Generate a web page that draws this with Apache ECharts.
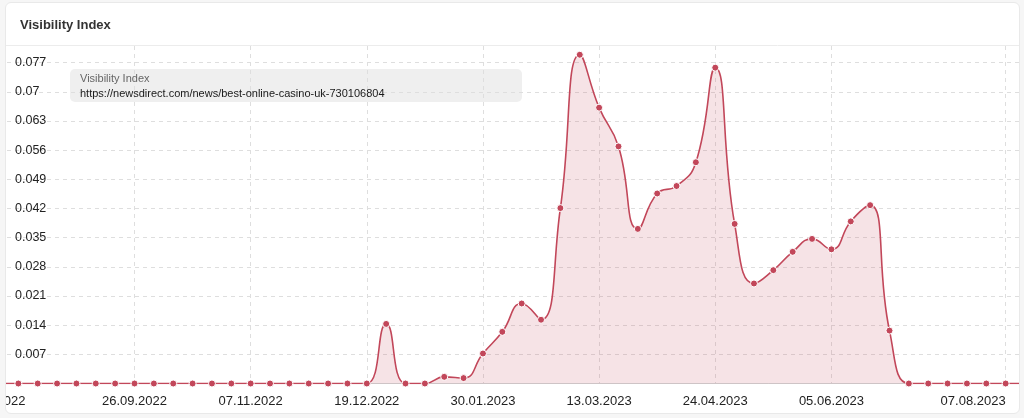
<!DOCTYPE html>
<html>
<head>
<meta charset="utf-8">
<script src="https://cdn.jsdelivr.net/npm/echarts@6/dist/echarts.min.js"></script>
<style>
html,body{margin:0;padding:0;background:#f6f6f6;width:1024px;height:418px;overflow:hidden;}
#card{position:absolute;left:5px;top:2px;width:1013px;height:410px;border:1px solid #e9e9e9;border-radius:6px;background:#fff;overflow:hidden;}
#chart{position:absolute;left:-16px;top:-3px;width:1050px;height:418px;}
</style>
</head>
<body>
<div id="card"><div id="chart"></div></div>
<script>
var categories = [
 '08.08.2022','15.08.2022','22.08.2022','29.08.2022','05.09.2022','12.09.2022','19.09.2022','26.09.2022',
 '03.10.2022','10.10.2022','17.10.2022','24.10.2022','31.10.2022','07.11.2022','14.11.2022','21.11.2022',
 '28.11.2022','05.12.2022','12.12.2022','19.12.2022','26.12.2022','02.01.2023','09.01.2023','16.01.2023',
 '23.01.2023','30.01.2023','06.02.2023','13.02.2023','20.02.2023','27.02.2023','06.03.2023','13.03.2023',
 '20.03.2023','27.03.2023','03.04.2023','10.04.2023','17.04.2023','24.04.2023','01.05.2023','08.05.2023',
 '15.05.2023','22.05.2023','29.05.2023','05.06.2023','12.06.2023','19.06.2023','26.06.2023','03.07.2023',
 '10.07.2023','17.07.2023','24.07.2023','31.07.2023','07.08.2023','14.08.2023'
];
var visibility = [
 0,0,0,0,0,0,0,0,
 0,0,0,0,0,0,0,0,
 0,0,0,0,0.0143,0,0,0.0016,
 0.0013,0.0072,0.0124,0.0192,0.0153,0.0421,0.0789,0.0662,
 0.0569,0.0371,0.0456,0.0474,0.0531,0.0758,0.0383,0.0240,
 0.0272,0.0316,0.0347,0.0322,0.0389,0.0428,0.0127,0,
 0,0,0,0,0,0
];
var labelIndices = [1,7,13,19,25,31,37,43,52];
var gridIndices = [7,13,19,25,31,37,43,52];
var seriesName = 'https://newsdirect.com/news/best-online-casino-uk-730106804';
var titleText = 'Visibility Index';

var FONT = '"Liberation Sans", Arial, Helvetica, sans-serif';
var catData = categories.map(function(c, i){
  if (i === 1) return {value: c, textStyle: {align: 'right', padding: [0, -7, 0, 0]}};
  if (i === 52) return {value: c, textStyle: {align: 'right'}};
  return c;
});

var chart = echarts.init(document.getElementById('chart'), null, {renderer: 'canvas'});
chart.setOption({
  animation: false,
  textStyle: {fontFamily: FONT},
  title: {
    text: titleText, left: 30, top: 19, padding: 0,
    textStyle: {fontSize: 13, fontWeight: 'bold', color: '#333', fontFamily: FONT}
  },
  graphic: [{
    type: 'line', shape: {x1: 0, y1: 45.5, x2: 1050, y2: 45.5},
    style: {stroke: '#ececec', lineWidth: 1}, silent: true, z: 100
  }],
  legend: {
    left: 80, top: 69, orient: 'vertical',
    data: [{name: seriesName, icon: 'none'}],
    itemWidth: 0, itemHeight: 0,
    padding: [4, 10, 3, 5],
    backgroundColor: 'rgba(222,222,222,0.48)',
    borderRadius: 5,
    selectedMode: false,
    formatter: function(name){ return '{t|' + titleText + '}\n{u|' + name + '}'; },
    textStyle: {
      fontFamily: FONT,
      rich: {
        t: {fontSize: 11, color: '#666', lineHeight: 15, width: 432, fontFamily: FONT},
        u: {fontSize: 11, color: '#1a1a1a', lineHeight: 15, width: 432, fontFamily: FONT}
      }
    }
  },
  grid: {left: 9, top: 46, width: 1026, height: 337.5, containLabel: false, outerBoundsMode: 'none'},
  xAxis: {
    type: 'category',
    data: catData,
    boundaryGap: false,
    axisLine: {show: true, lineStyle: {color: '#cfcfcf', width: 1}},
    axisTick: {show: false},
    axisLabel: {
      interval: function(i){ return labelIndices.indexOf(i) >= 0; },
      margin: 11, fontSize: 13, color: '#222', fontFamily: FONT,
      hideOverlap: false
    },
    splitLine: {
      show: true,
      interval: function(i){ return gridIndices.indexOf(i) >= 0; },
      lineStyle: {type: [4, 4], color: '#dedede', width: 1}
    }
  },
  yAxis: {
    type: 'value', min: 0, max: 0.081, interval: 0.007,
    axisLine: {show: false}, axisTick: {show: false},
    axisLabel: {
      inside: true, margin: 16, fontSize: 12.5, color: '#222', fontFamily: FONT,
      showMinLabel: false, showMaxLabel: false,
      formatter: function(v){ return v === 0 ? '' : String(+v.toFixed(3)); }
    },
    splitLine: {show: true, showMaxLine: false, lineStyle: {type: [4, 4], color: '#dedede', width: 1}}
  },
  series: [{
    name: seriesName,
    type: 'line',
    data: visibility,
    smooth: 0.5,
    showAllSymbol: true,
    symbol: 'circle',
    symbolSize: 7,
    lineStyle: {color: '#c2475a', width: 1.6},
    itemStyle: {color: '#c2475a', borderColor: '#fff', borderWidth: 1},
    areaStyle: {color: 'rgba(194,71,90,0.22)'},
    z: 3
  }]
});
</script>
</body>
</html>
